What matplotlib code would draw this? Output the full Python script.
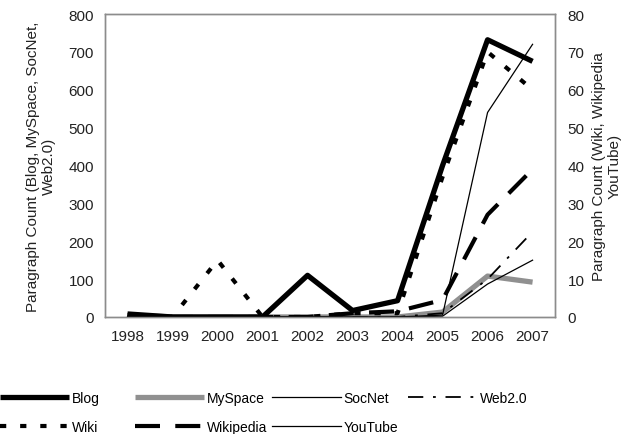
import numpy as np
import matplotlib.pyplot as plt
from matplotlib.lines import Line2D

plt.rcParams['font.family'] = ['Liberation Sans', 'DejaVu Sans']
plt.rcParams['font.size'] = 10
plt.rcParams['lines.scale_dashes'] = False

years = ["1998", "1999", "2000", "2001", "2002", "2003", "2004", "2005", "2006", "2007"]

# left axis series
blog = [8, 0, 0, 0, 110, 17, 43, 400, 732, 675]
myspace = [5, 0, 0, 0, 0, 0, 0, 13, 108, 92]
socnet = [0, 0, 0, 0, 0, 0, 0, 2, 87, 150]
web20 = [0, 0, 0, 0, 0, 0, 0, 10, 100, 225]

# right axis series
wiki = [0.5, 0, 15, 0, 0, 1, 1, 37, 70, 60]
wikipedia = [0, 0, 0, 0, 0, 1, 1.5, 4.5, 27, 39]
youtube = [0, 0, 0, 0, 0, 0, 0, 0.5, 54, 72]

x = np.arange(len(years))
grey = "#8c8c8c"
txt = "#222222"

fig = plt.figure(figsize=(6.42, 4.35), dpi=100)
ax = fig.add_axes([0.1636, 0.269, 0.701, 0.6965])
ax2 = ax.twinx()

styles = {
    "Blog": dict(color="black", lw=3.8, solid_capstyle="butt"),
    "MySpace": dict(color="#909090", lw=3.8, solid_capstyle="butt"),
    "SocNet": dict(color="black", lw=0.9),
    "Web2.0": dict(color="black", lw=1.3, dashes=(11, 7, 2, 7)),
    "Wiki": dict(color="black", lw=3.0, dashes=(4.5, 10)),
    "Wikipedia": dict(color="black", lw=3.0, dashes=(18, 11)),
    "YouTube": dict(color="black", lw=0.9),
}

ax.plot(x, myspace, **styles["MySpace"])
ax.plot(x, socnet, **styles["SocNet"])
ax.plot(x, web20, **styles["Web2.0"])
ax.plot(x, blog, **styles["Blog"], zorder=5)
ax2.plot(x, wiki, **styles["Wiki"])
ax2.plot(x, wikipedia, **styles["Wikipedia"])
ax2.plot(x, youtube, **styles["YouTube"])

ax.set_xlim(-0.5, len(years) - 0.5)
ax.set_ylim(0, 800)
ax2.set_ylim(0, 80)
ax.set_yticks(np.arange(0, 801, 100))
ax2.set_yticks(np.arange(0, 81, 10))
ax.set_xticks(x)
ax.set_xticklabels(years)

for a in (ax, ax2):
    a.tick_params(length=0, labelsize=11, colors=txt)
    for s in a.spines.values():
        s.set_color(grey)
        s.set_linewidth(1.0)
ax.tick_params(axis="x", pad=9)
ax.tick_params(axis="y", pad=8)
ax2.tick_params(axis="y", pad=9)

ax.set_ylabel("Paragraph Count (Blog, MySpace, SocNet,\nWeb2.0)", color=txt,
              fontsize=11, labelpad=9)
ax2.set_ylabel("Paragraph Count (Wiki, Wikipedia\nYouTube)", color=txt,
               fontsize=11, labelpad=5)

# legend in four columns along the bottom
blank = Line2D([], [], alpha=0)
columns = [["Blog", "Wiki"], ["MySpace", "Wikipedia"], ["SocNet", "YouTube"], ["Web2.0", ""]]
col_x = [0.0, 0.2103, 0.4237, 0.6355]
for names, cx in zip(columns, col_x):
    handles = [Line2D([], [], **styles[n]) if n else blank for n in names]
    fig.legend(handles, names, loc="center left", bbox_to_anchor=(cx, 0.05),
               frameon=False, handlelength=5.0, handletextpad=0.15,
               labelspacing=1.1, borderaxespad=0, borderpad=0, fontsize=10)

fig.savefig("out.png", dpi=100)
